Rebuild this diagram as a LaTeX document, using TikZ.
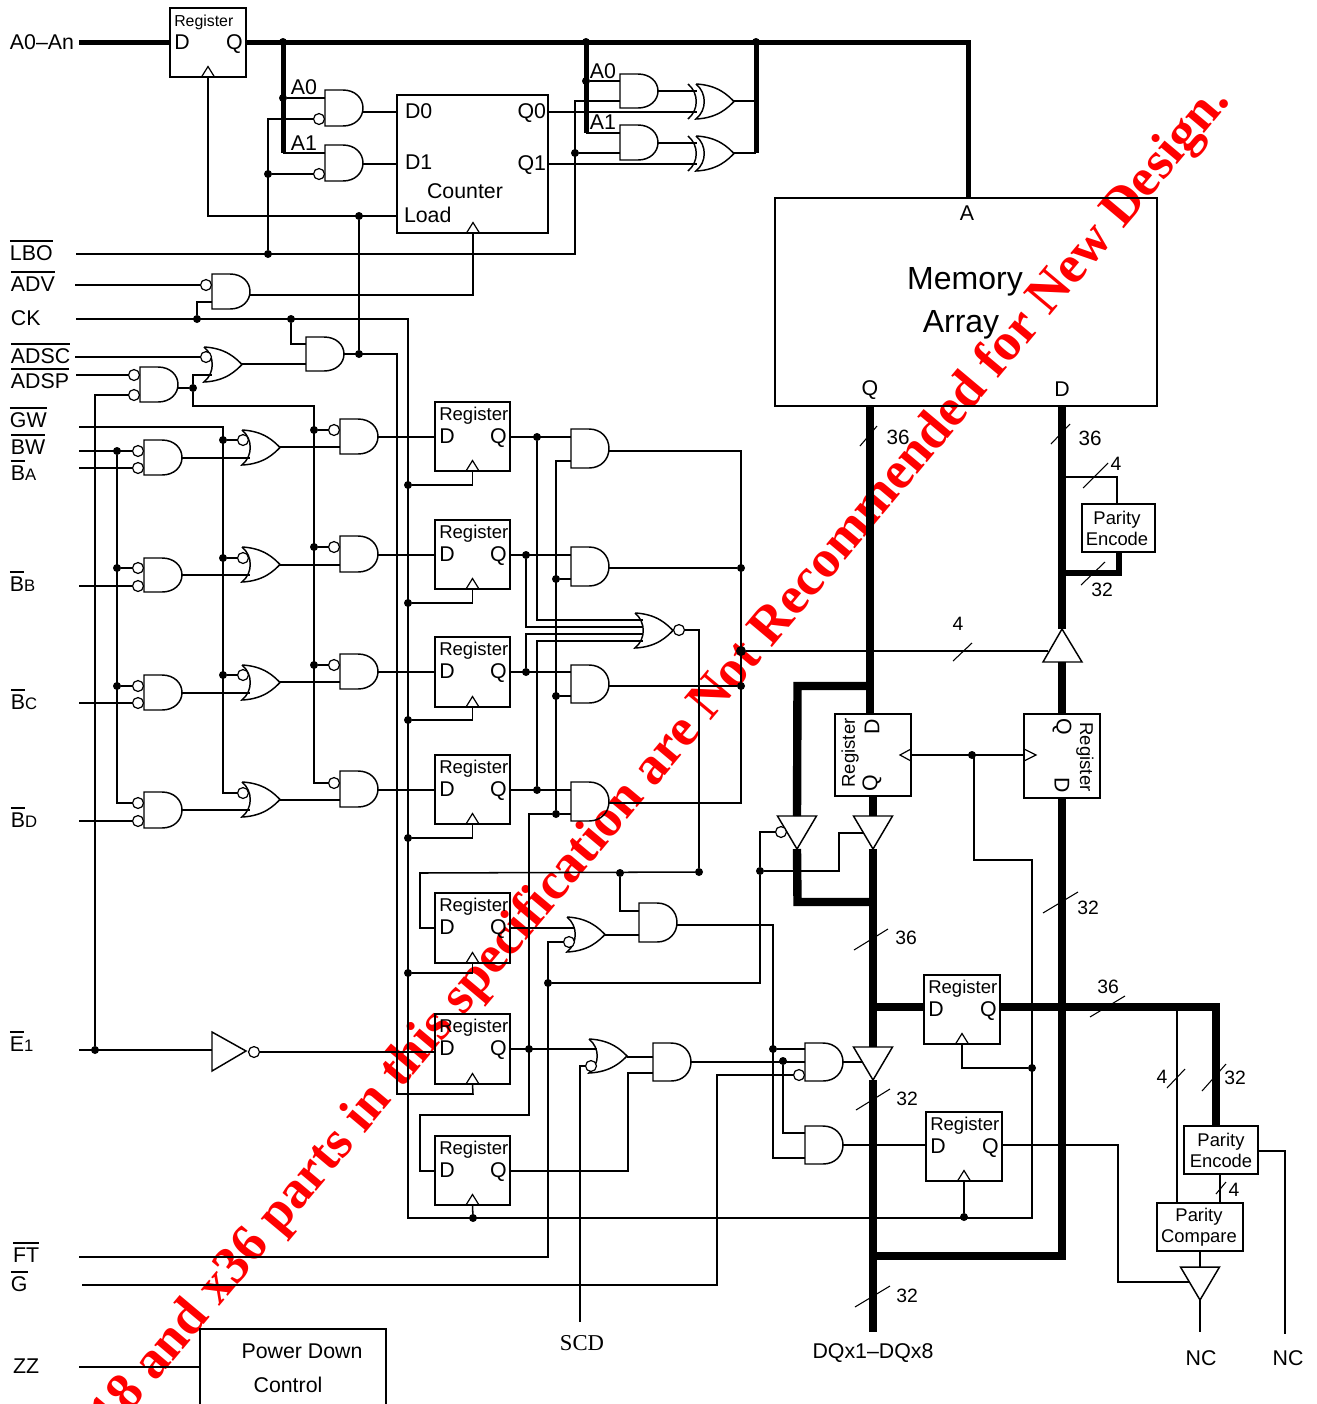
\documentclass[tikz,border=0pt]{standalone}
\usepackage{fontspec}
\setmainfont{Liberation Sans}
\newfontfamily\wmfont{Liberation Serif}
\newcommand\fsz[1]{\fontsize{#1}{#1}\selectfont}
\newcommand\ovl[1]{\leavevmode\vbox{\hrule height 1.1pt\kern 2.6pt\hbox{#1}}}
\newcommand\sml[1]{{\fsz{12.5}#1}}
\tikzset{
 w/.style={line width=1.15pt,line join=miter},
 wm/.style={line width=1.9pt,line join=miter},
 bus/.style={line width=3.75pt,line join=miter},
 busb/.style={line width=6.3pt,line join=miter},
 gate/.style={line width=1.1pt,line join=miter},
 slash/.style={line width=0.8pt},
 boxn/.style={draw,line width=1.2pt,inner sep=0pt,outer sep=0pt},
 jn/.style={circle,fill=black,inner sep=0pt,outer sep=0pt,minimum size=6pt},
 bub/.style={circle,draw,fill=white,line width=0.9pt,inner sep=0pt,outer sep=0pt,minimum size=8.2pt},
 lab/.style={inner sep=0pt,outer sep=0pt,font=\fsz{16}},
 lbl/.style={inner sep=0pt,outer sep=0pt,font=\fsz{16}},
 num/.style={inner sep=0pt,outer sep=0pt,font=\fsz{14.5}},
 txtc/.style={inner sep=0pt,outer sep=0pt,align=center,font=\fontsize{13.8}{15.7}\selectfont},
}
% box node between two corners
\newcommand\bx[5]{\pgfmathsetmacro\bw{(#4-#2)*0.75}\pgfmathsetmacro\bh{(#5-#3)*0.75}
 \node[boxn,minimum width=\bw pt,minimum height=\bh pt] (#1) at ({(#2+#4)/2},{(#3+#5)/2}) {};}
% register: name x1 y1 x2 y2 fontsize(pt) dqsize
\newcommand\reg[7]{\bx{#1}{#2}{#3}{#4}{#5}
 \node[inner sep=0pt,anchor=base west,font=\fsz{#6}] (#1-t) at ({#2+4},{#3+18.5}) {Register};
 \node[inner sep=0pt,anchor=base west,font=\fsz{#7}] (#1-dl) at ({#2+4},{#3+41.5}) {D};
 \node[inner sep=0pt,anchor=base east,font=\fsz{#7}] (#1-ql) at ({#4-3},{#3+41.5}) {Q};
 \coordinate (#1-D) at (#2,{#3+35}); \coordinate (#1-Q) at (#4,{#3+35});
 \coordinate (#1-C) at ({(#2+#4)/2},#5);
 \ck{({(#2+#4)/2},#5)}}
\newcommand\ck[1]{\draw[gate,line width=0.9pt] #1 ++(-6.5,0) -- ++(6.5,-10.5) -- ++(6.5,10.5);}
% and gate: name x ytop ybot yout ya yb
\newcommand\andg[7]{\pgfmathsetmacro\ym{(#3+#4)/2}\pgfmathsetmacro\rr{(#4-#3)/2}
 \draw[gate] ({#2+18},#3) -- (#2,#3) -- (#2,#4) -- ({#2+18},#4)
   .. controls ({#2+30},#4) and ({#2+38},{\ym+0.55*\rr}) .. ({#2+38},\ym)
   .. controls ({#2+38},{\ym-0.55*\rr}) and ({#2+30},#3) .. ({#2+18},#3);
 \coordinate (#1-o) at ({#2+38},#5); \coordinate (#1-a) at (#2,#6); \coordinate (#1-b) at (#2,#7);}
% or gate: name x ytop ybot yout ya yb
\newcommand\org[7]{\pgfmathsetmacro\ym{(#3+#4)/2}
 \draw[gate] (#2,#3) .. controls ({#2+22},{#3+1}) and ({#2+32},{\ym-6}) .. ({#2+38},\ym)
   .. controls ({#2+32},{\ym+6}) and ({#2+22},{#4-1}) .. (#2,#4)
   .. controls ({#2+11},{#4-9}) and ({#2+11},{#3+9}) .. (#2,#3);
 \coordinate (#1-o) at ({#2+38},#5); \coordinate (#1-a) at ({#2+8},#6); \coordinate (#1-b) at ({#2+8},#7);}
\newcommand\xback[3]{\draw[gate] ({#1-8},#2) .. controls ({#1+3},{#2+9}) and ({#1+3},{#3-9}) .. ({#1-8},#3);}
% buffer triangle, point down: name x ytop
\newcommand\trid[3]{\draw[gate,fill=white] ({#2-19.5},#3) -- ({#2+19.5},#3) -- (#2,{#3+33}) -- cycle;
 \coordinate (#1-i) at (#2,#3); \coordinate (#1-u) at (#2,{#3+33}); \coordinate (#1-e) at ({#2-9.5},{#3+17});}
\newcommand\jnc[3]{\node[jn] (#1) at (#2,#3) {};}
\newcommand\bb[3]{\node[bub] (#1) at (#2,#3) {};}
\begin{document}
\begin{tikzpicture}[x=0.75pt,y=-0.75pt]
\path[use as bounding box,fill=white] (0,0) rectangle (1317,1404);
\clip (0,0) rectangle (1317,1404);
% watermark, behind everything
\node[inner sep=0pt,rotate=50,anchor=base east,text=red,font=\wmfont\bfseries\fsz{40}] (wm) at (1231,101)
 {The x18 and x36 parts in this specification are Not Recommended for New Design.};

% ---------- input labels
\node[lab,anchor=west] (lA) at (10,42) {A0–An};
\node[lab,anchor=base west] (lLBO) at (10,260) {\ovl{LBO}};
\node[lab,anchor=base west] (lADV) at (11,291) {\ovl{ADV}};
\node[lab,anchor=base west] (lCK) at (11,325) {CK};
\node[lab,anchor=base west] (lADSC) at (11,363) {\ovl{ADSC}};
\node[lab,anchor=base west] (lADSP) at (11,388) {\ovl{ADSP}};
\node[lab,anchor=base west] (lGW) at (10,427) {\ovl{GW}};
\node[lab,anchor=base west] (lBW) at (11,454) {\ovl{BW}};
\node[lab,anchor=base west] (lBA) at (11,480) {\ovl{B}\sml{A}};
\node[lab,anchor=base west] (lBB) at (10,591) {\ovl{B}\sml{B}};
\node[lab,anchor=base west] (lBC) at (11,709) {\ovl{B}\sml{C}};
\node[lab,anchor=base west] (lBD) at (11,827) {\ovl{B}\sml{D}};
\node[lab,anchor=base west] (lE) at (10,1051) {\ovl{E}\sml{1}};
\node[lab,anchor=base west] (lFT) at (13,1262) {\ovl{FT}};
\node[lab,anchor=base west] (lG) at (11,1291) {\ovl{G}};
\node[lab,anchor=base west] (lZZ) at (13,1373) {ZZ};
\foreach \n/\x/\y in {ina/79/42,inLBO/76/254,inADV/75/285,inCK/76/319,inADSC/75/357,inADSP/76/375,inGW/79/427,inBW/79/451,inBA/79/468,inBB/79/586,inBC/79/703,inBD/79/821,inE/79/1050,inFT/79/1257,inG/82/1285,inZZ/79/1367}
 {\coordinate (\n) at (\x,\y);}

% ---------- boxes
\reg{r0}{170}{8}{246}{77}{11.9}{16}
\coordinate (r0-D) at (170,42); \coordinate (r0-Q) at (246,42);
\bx{cnt}{397}{95}{548}{233}
\node[lbl,anchor=base west] (cD0) at (405,118) {D0};
\node[lbl,anchor=base west] (cD1) at (405,169) {D1};
\node[lbl] (cC) at (465,191) {Counter};
\node[lbl,anchor=base west] (cL) at (404,222) {Load};
\node[lbl,anchor=base east] (cQ0) at (546,118) {Q0};
\node[lbl,anchor=base east] (cQ1) at (546,170) {Q1};
\ck{(473,233)}
\foreach \n/\x/\y in {cntD0/397/112,cntD1/397/164,cntL/397/216,cntQ0/548/112,cntQ1/548/164,cntC/473/233}{\coordinate (\n) at (\x,\y);}
\bx{mem}{775}{198}{1157}{406}
\node[lbl] (mA) at (967,213) {A};
\node[inner sep=0pt,font=\fsz{24}] (mM) at (965,282) {Memory};
\node[inner sep=0pt,font=\fsz{24}] (mR) at (961,325) {Array};
\node[lbl] (mQ) at (870,390) {Q};
\node[lbl] (mD) at (1062,389) {D};
\coordinate (memA) at (968,198); \coordinate (memQ) at (870,406); \coordinate (memD) at (1062,406);

\reg{r1}{435}{402}{510}{471}{13.9}{16}
\reg{r2}{435}{520}{510}{589}{13.9}{16}
\reg{r3}{435}{637}{510}{707}{13.9}{16}
\reg{r4}{435}{755}{510}{824}{13.9}{16}
\reg{r5}{435}{893}{510}{963}{13.9}{16}
\reg{r6}{435}{1014}{510}{1084}{13.9}{16}
\reg{r7}{435}{1136}{510}{1205}{13.9}{16}
\reg{r8}{924}{975}{1000}{1044}{13.9}{16}
\reg{r9}{926}{1112}{1002}{1181}{13.9}{16}
\coordinate (r6-D) at (435,1052);
\coordinate (r8-D) at (924,1007); \coordinate (r8-Q) at (1000,1007);
\coordinate (r9-D) at (926,1145); \coordinate (r9-Q) at (1002,1145);

% rotated registers
\bx{rl}{835}{714}{911}{796}
\node[inner sep=0pt,rotate=90,font=\fsz{13.9}] (rlt) at (850,753) {Register};
\node[inner sep=0pt,rotate=90,font=\fsz{16}] (rld) at (872,727) {D};
\node[inner sep=0pt,rotate=90,font=\fsz{16}] (rlq) at (872,783) {Q};
\draw[gate,line width=0.9pt] (911,749) -- (900,755) -- (911,761);
\bx{rr}{1024}{714}{1100}{798}
\node[inner sep=0pt,rotate=-90,font=\fsz{13.9}] (rrt) at (1085,757) {Register};
\node[inner sep=0pt,rotate=-90,font=\fsz{16}] (rrq) at (1062,727) {Q};
\node[inner sep=0pt,rotate=-90,font=\fsz{16}] (rrd) at (1062,785) {D};
\draw[gate,line width=0.9pt] (1024,749) -- (1036,755) -- (1024,761);
\coordinate (rlc) at (911,755); \coordinate (rrc) at (1024,755);

\bx{pe1}{1082}{504}{1155}{552}
\node[txtc] (pe1t) at (1117,528) {Parity\\Encode};
\bx{pe2}{1184}{1126}{1258}{1174}
\node[txtc] (pe2t) at (1221,1150) {Parity\\Encode};
\bx{pc}{1157}{1203}{1243}{1251}
\node[txtc] (pct) at (1199,1227) {Parity\\Compare};
\bx{pd}{200}{1329}{386}{1450}
\node[lbl] (pdt) at (302,1351) {Power Down};
\node[lbl] (pdc) at (288,1385) {Control};

% ---------- gates
\andg{a1}{325}{90}{126}{112}{98}{117}
\andg{a2}{325}{145}{181}{164}{153}{174}
\andg{a3}{212}{274}{309}{295}{283}{302}
\andg{a4}{306}{337}{371}{354}{344}{364}
\andg{a5}{140}{367}{402}{388}{376}{394}
\org{o1}{204}{347}{382}{364}{356}{375}
\andg{a7}{620}{74}{108}{91}{81}{101}
\andg{a8}{620}{125}{160}{143}{133}{153}
\org{x1}{696}{84}{119}{101}{91}{112} \xback{696}{84}{119}
\org{x2}{696}{136}{171}{153}{143}{164} \xback{696}{136}{171}
\coordinate (x1-a) at (697,91); \coordinate (x1-b) at (697,112);
\coordinate (x2-a) at (697,143); \coordinate (x2-b) at (697,164);
% left column
\andg{ab1}{144}{440}{475}{458}{451}{468}
\andg{ab2}{144}{558}{592}{575}{568}{586}
\andg{ab3}{144}{675}{710}{693}{686}{703}
\andg{ab4}{144}{792}{828}{810}{803}{821}
\org{or1}{242}{430}{465}{447}{440}{458}
\org{or2}{242}{547}{582}{565}{558}{575}
\org{or3}{242}{665}{700}{682}{675}{693}
\org{or4}{242}{782}{817}{800}{793}{810}
\andg{ar1}{340}{419}{454}{437}{430}{447}
\andg{ar2}{340}{536}{572}{555}{547}{565}
\andg{ar3}{340}{654}{689}{672}{665}{682}
\andg{ar4}{340}{771}{807}{790}{783}{800}
\andg{ac1}{571}{429}{468}{451}{437}{461}
\andg{ac2}{571}{547}{586}{568}{555}{579}
\andg{ac3}{571}{665}{703}{686}{672}{696}
\andg{ac4}{571}{782}{821}{803}{790}{814}
\org{nor}{635}{613}{648}{630}{620}{627}
\coordinate (nor-c) at (643,634); \coordinate (nor-d) at (643,641);
\andg{a9}{639}{903}{942}{925}{911}{935}
\org{or5}{567}{917}{952}{935}{928}{942}
\org{or6}{589}{1039}{1073}{1057}{1049}{1066}
\andg{a12}{653}{1043}{1081}{1062}{1057}{1073}
\andg{a10}{805}{1043}{1081}{1062}{1049}{1062}
\andg{a11}{805}{1126}{1164}{1145}{1133}{1158}
% inverter
\draw[gate] (212,1032) -- (246,1051) -- (212,1071) -- cycle;
\coordinate (inv-i) at (212,1050);
% buffers
\trid{t1}{797}{816}
\trid{t2}{873}{816}
\trid{t3}{873}{1047}
\trid{t4}{1200}{1267}
\coordinate (t4-e) at (1190,1282);
\draw[gate,fill=white] (1062,629) -- (1082,662) -- (1043,662) -- cycle;
\coordinate (tu-tip) at (1062,629); \coordinate (tu-base) at (1062,662); \coordinate (tu-e) at (1048,651);

% ---------- bubbles
\bb{b1}{319}{119} \bb{b2}{319}{174} \bb{b3}{206}{285} \bb{b4}{206}{357} \bb{b5}{134}{375} \bb{b6}{134}{395}
\bb{bl1}{138}{451} \bb{bl2}{138}{468} \bb{bl3}{138}{568} \bb{bl4}{138}{586} \bb{bl5}{138}{686} \bb{bl6}{138}{703} \bb{bl7}{138}{803} \bb{bl8}{138}{821}
\bb{bo1}{243}{440} \bb{bo2}{243}{558} \bb{bo3}{243}{675} \bb{bo4}{243}{793}
\bb{br1}{334}{430} \bb{br2}{334}{547} \bb{br3}{334}{665} \bb{br4}{334}{783}
\bb{bnor}{679}{630} \bb{bor5}{569}{942} \bb{bor6}{591}{1066} \bb{ba10}{799}{1075} \bb{bt1}{781}{832} \bb{binv}{254}{1052}

% ---------- junctions
\jnc{j283a}{283}{42} \jnc{j283b}{283}{98} \jnc{j586a}{586}{42} \jnc{j586b}{586}{81} \jnc{j756}{756}{42}
\jnc{j268a}{268}{254} \jnc{j268b}{268}{174} \jnc{j359a}{359}{216} \jnc{j359b}{359}{354} \jnc{j575}{575}{153}
\jnc{j197}{197}{319} \jnc{j291}{291}{319} \jnc{j193}{193}{388} \jnc{j95}{95}{1050}
\jnc{j223a}{223}{440} \jnc{j223b}{223}{558} \jnc{j223c}{223}{675}
\jnc{j117a}{117}{451} \jnc{j117b}{117}{568} \jnc{j117c}{117}{686}
\jnc{j314a}{314}{430} \jnc{j314b}{314}{547} \jnc{j314c}{314}{665}
\jnc{j408a}{408}{485} \jnc{j408b}{408}{603} \jnc{j408c}{408}{720} \jnc{j408d}{408}{838} \jnc{j408e}{408}{973}
\jnc{j537a}{537}{437} \jnc{j526a}{526}{555} \jnc{j526b}{526}{672} \jnc{j537b}{537}{790}
\jnc{j556a}{556}{579} \jnc{j556b}{556}{696} \jnc{j556c}{556}{814}
\jnc{j741a}{741}{568} \jnc{j741b}{741}{686}
\node[jn,minimum size=7.5pt] (j741c) at (741,651) {};
\jnc{j699}{699}{872} \jnc{j620}{620}{873} \jnc{j548}{548}{983} \jnc{j760}{760}{871}
\jnc{j529}{529}{1049} \jnc{j773}{773}{1049} \jnc{j783}{783}{1061}
\jnc{j473}{473}{1218} \jnc{j964}{964}{1217} \jnc{j972}{972}{755} \jnc{j1032}{1032}{1068}

% ---------- address buses
\draw[bus] (ina) -- (r0-D);
\draw[bus] (r0-Q) -| (memA);
\coordinate (k283) at (283,153); \coordinate (k586) at (586,133); \coordinate (k756) at (756,153);
\draw[bus] (j283a.center) -- (k283);
\draw[bus] (j586a.center) -- (k586);
\draw[bus] (j756.center) -- (k756);
\draw[w] (k283) -- (a2-a);
\draw[w] (j283b) -- (a1-a);
\draw[w] (k586) -- (a8-a);
\draw[w] (j586b) -- (a7-a);
\draw[w] (a1-o) -- (cntD0);
\draw[w] (a2-o) -- (cntD1);
\draw[w] (cntL) -| (r0-C);
\draw[w] (j359a) -- (j359b);
\draw[w] (inLBO) -- (575,254) |- (a7-b);
\draw[w] (j268a) |- (b1);
\draw[w] (j268b) -- (b2);
\draw[w] (j575) -- (a8-b);
\draw[w] (a7-o) -- (x1-a);
\draw[w] (cntQ0) -- (x1-b);
\draw[w] (a8-o) -- (x2-a);
\draw[w] (cntQ1) -- (x2-b);
\draw[w] (x1-o) -- (756,101);
\draw[wm] (x2-o) -- (k756);
% control
\draw[w] (inADV) -- (b3);
\draw[w] (a3-o) -| (cntC);
\draw[w] (a3-b) -| (j197);
\coordinate (ckend) at (408,1218); \coordinate (ckr) at (1032,1218);
\draw[w] (inCK) -| (ckend) -- (ckr) -- (1032,860) -- (974,860) -- (974,755) -- (j972);
\draw[w] (j291) |- (a4-a);
\draw[w] (a4-o) -- (397,354) |- (473,1094) -- (r6-C);
\draw[w] (o1-o) -- (a4-b);
\draw[w] (inADSC) -- (b4);
\draw[w] (inADSP) -- (b5);
\draw[w] (a5-o) -- (j193);
\draw[w] (j193) |- (o1-b);
\draw[w] (j193) |- (314,406) -- (314,783) -- (br4);
\draw[w] (b6) -| (j95);
\draw[w] (inE) -- (inv-i);
\draw[w] (binv) -- (r6-D);
% byte write
\draw[w] (inGW) -- (223,427) |- (bo4);
\draw[w] (j223a) -- (bo1); \draw[w] (j223b) -- (bo2); \draw[w] (j223c) -- (bo3);
\draw[w] (inBW) -- (bl1);
\draw[w] (j117a) |- (bl7);
\draw[w] (j117b) -- (bl3); \draw[w] (j117c) -- (bl5);
\draw[w] (inBA) -- (bl2); \draw[w] (inBB) -- (bl4); \draw[w] (inBC) -- (bl6); \draw[w] (inBD) -- (bl8);
\draw[w] (ab1-o) -- (or1-b); \draw[w] (ab2-o) -- (or2-b); \draw[w] (ab3-o) -- (or3-b); \draw[w] (ab4-o) -- (or4-b);
\draw[w] (or1-o) -- (ar1-b); \draw[w] (or2-o) -- (ar2-b); \draw[w] (or3-o) -- (ar3-b); \draw[w] (or4-o) -- (ar4-b);
\draw[w] (j314a) -- (br1); \draw[w] (j314b) -- (br2); \draw[w] (j314c) -- (br3);
\draw[w] (ar1-o) -- (r1-D); \draw[w] (ar2-o) -- (r2-D); \draw[w] (ar3-o) -- (r3-D); \draw[w] (ar4-o) -- (r4-D);
\draw[w] (r1-C) |- (j408a); \draw[w] (r2-C) |- (j408b); \draw[w] (r3-C) |- (j408c); \draw[w] (r4-C) |- (j408d); \draw[w] (r5-C) |- (j408e);
\draw[w] (r1-Q) -- (ac1-a); \draw[w] (r2-Q) -- (ac2-a); \draw[w] (r3-Q) -- (ac3-a); \draw[w] (r4-Q) -- (ac4-a);
\draw[w] (ac1-o) -- (741,451) |- (ac4-o);
\draw[w] (ac2-o) -- (j741a); \draw[w] (ac3-o) -- (j741b);
\draw[w] (ac1-b) -| (j556c);
\draw[w] (j556a) -- (ac2-b); \draw[w] (j556b) -- (ac3-b); \draw[w] (j556c) -- (ac4-b);
\draw[w] (j556c) -- (529,814) -- (529,1115) -- (420,1115) |- (r7-D);
\draw[w] (j537a) |- (nor-a);
\draw[w] (j526a) |- (nor-b);
\draw[w] (j526b) |- (nor-c);
\draw[w] (j537b) |- (nor-d);
\draw[w] (bnor) -| (j699);
\draw[w] (j699) -- (420,873) |- (r5-D);
\draw[w] (j620) |- (a9-a);
\draw[w] (r5-Q) -- (or5-a);
\draw[w] (or5-o) -- (a9-b);
\draw[w] (inFT) -- (548,1257) |- (bor5);
\draw[w] (j548) -- (760,983) -- (j760);
\draw[w] (j760) |- (bt1);
\draw[w] (j760) -| (839,833) -- (t2-e);
\draw[w] (a9-o) -- (773,925) |- (a11-b);
\draw[w] (j773) -- (a10-a);
\draw[w] (r6-Q) -- (or6-a);
\coordinate (scd) at (580,1322);
\draw[w] (scd) |- (bor6);
\draw[w] (or6-o) -- (a12-a);
\draw[w] (r7-Q) -- (628,1171) |- (a12-b);
\draw[w] (a12-o) -- (a10-b);
\draw[w] (j783) |- (a11-a);
\draw[w] (inG) -- (717,1285) |- (ba10);
\coordinate (t3-ee) at (863,1062);
\draw[w] (a10-o) -- (t3-ee);
\draw[w] (a11-o) -- (r9-D);
\draw[w] (r8-C) |- (j1032);
\draw[w] (r9-C) -- (j964);
\draw[w] (r7-C) -- (j473);
\draw[w] (r9-Q) -- (1118,1145) |- (t4-e);
\draw[w] (rlc) -- (rrc);
\draw[w] (inZZ) -- (pd.west |- inZZ);
% data buses
\coordinate (rlD) at (870,714); \coordinate (rlQ) at (873,796); \coordinate (rrQ) at (1062,714); \coordinate (rrD) at (1062,798);
\draw[busb] (memQ) -- (rlD);
\draw[busb] (memD) -- (tu-tip);
\draw[busb] (tu-base) -- (rrQ);
\draw[busb] (rrD) -- (1062,1256) -- (870,1256);
\draw[busb] (rlQ) -- (t2-i);
\draw[busb] (870,686) -- (797.5,686) -- (t1-i);
\draw[busb] (t1-u) -- (797.5,902) -- (870,902);
\draw[busb] (t2-u) -- (t3-i);
\draw[busb] (t3-u) -- (873,1332);
\draw[busb] (873,1007) -- (r8-D);
\coordinate (pe2top) at (1216,1126);
\draw[busb] (r8-Q) -| (pe2top);
\coordinate (pctop) at (1177,1203);
\draw[wm] (1177,1007) -- (pctop);
\draw[wm] (1220,1174) -- (1220,1203);
\draw[wm] (1062,477) -| (1117,504);
\draw[line width=5pt,line join=miter] (1119,552) |- (1062,573);
\draw[wm] (j741c) -- (tu-e);
\draw[w] (1258,1151) -| (1285,1334);
\draw[w] (1200,1251) -- (t4-i);
\draw[w] (t4-u) -- (1200,1332);

% ---------- bit-width slashes and numbers
\foreach \a/\b/\c/\d in {860/446/877/426, 1051/444/1070/424, 1083/488/1108/463, 1081/585/1105/562, 953/661/972/643, 1043/913/1078/892, 854/950/888/929, 1090/1017/1125/996, 1167/1088/1185/1069, 1202/1091/1226/1064, 1216/1194/1226/1182, 856/1110/890/1089, 855/1307/890/1286}
 {\draw[slash] (\a,\b) -- (\c,\d);}
\node[num,font=\fsz{15.5}] (n1) at (898,437) {36};
\node[num,font=\fsz{15.5}] (n2) at (1090,438) {36};
\node[num] (n3) at (1116,464) {4};
\node[num] (n4) at (1102,590) {32};
\node[num] (n5) at (958,624) {4};
\node[num] (n6) at (1088,908) {32};
\node[num] (n7) at (906,938) {36};
\node[num] (n8) at (1108,987) {36};
\node[num] (n9) at (1162,1077) {4};
\node[num] (n10) at (1235,1078) {32};
\node[num] (n11) at (1234,1190) {4};
\node[num] (n12) at (907,1099) {32};
\node[num] (n13) at (907,1296) {32};
\node[inner sep=0pt,font=\fsz{16}] (aa0) at (304,87) {A0};
\node[inner sep=0pt,font=\fsz{16}] (aa1) at (304,143) {A1};
\node[inner sep=0pt,font=\fsz{16}] (ab0) at (603,71) {A0};
\node[inner sep=0pt,font=\fsz{16}] (abb1) at (603,122) {A1};
\node[inner sep=0pt,font=\wmfont\fsz{17}] (lscd) at (582,1343) {SCD};
\node[lbl] (ldq) at (873,1353) {DQx1–DQx8};
\node[lbl] (lnc1) at (1201,1358) {NC};
\node[lbl] (lnc2) at (1288,1358) {NC};
\end{tikzpicture}
\end{document}
